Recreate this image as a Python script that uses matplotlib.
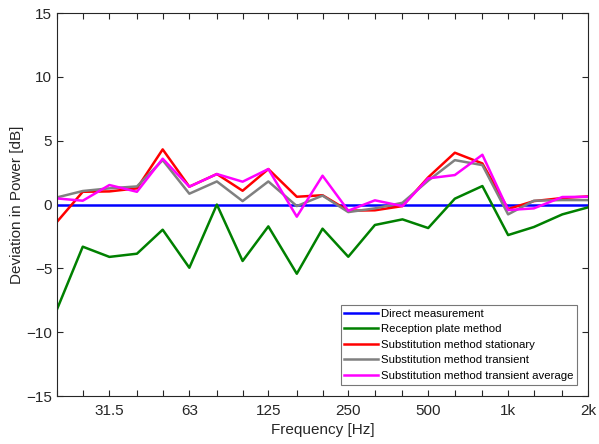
import matplotlib.pyplot as plt
import numpy as np

# third-octave band centres [Hz]
freqs = [20, 25, 31.5, 40, 50, 63, 80, 100, 125, 160, 200, 250, 315, 400,
         500, 630, 800, 1000, 1250, 1600, 2000]

direct = [0] * 21
reception = [-8.2, -3.3, -4.1, -3.85, -1.97, -4.95, 0.0, -4.42, -1.71, -5.42,
             -1.89, -4.09, -1.6, -1.16, -1.84, 0.46, 1.45, -2.39, -1.76, -0.77, -0.22]
subst_stat = [-1.35, 1.0, 1.03, 1.27, 4.32, 1.4, 2.39, 1.08, 2.78, 0.61,
              0.73, -0.48, -0.45, -0.12, 2.13, 4.06, 3.22, -0.35, 0.27, 0.51, 0.64]
subst_trans = [0.56, 1.06, 1.27, 1.42, 3.48, 0.85, 1.81, 0.27, 1.81, -0.12,
               0.7, -0.59, -0.3, 0.14, 1.87, 3.48, 3.09, -0.77, 0.3, 0.35, 0.35]
subst_avg = [0.48, 0.3, 1.53, 1.0, 3.59, 1.4, 2.39, 1.79, 2.78, -0.95,
             2.26, -0.48, 0.33, -0.12, 2.05, 2.31, 3.9, -0.43, -0.3, 0.59, 0.61]

tick_freqs = [31.5, 63, 125, 250, 500, 1000, 2000]
tick_labels = ["31.5", "63", "125", "250", "500", "1k", "2k"]

plt.rcParams['font.family'] = ['Liberation Sans', 'DejaVu Sans']

fig = plt.figure(figsize=(5.99, 4.44), dpi=100)
ax = fig.add_axes([0.0952, 0.108, 0.8865, 0.8626])

lw = 1.8
ax.plot(freqs, direct, color=(0, 0, 1), lw=lw, label="Direct measurement")
ax.plot(freqs, reception, color=(0, 0.5, 0), lw=lw, label="Reception plate method")
ax.plot(freqs, subst_stat, color=(1, 0, 0), lw=lw, label="Substitution method stationary")
ax.plot(freqs, subst_trans, color=(0.5, 0.5, 0.5), lw=lw, label="Substitution method transient")
ax.plot(freqs, subst_avg, color=(1, 0, 1), lw=lw, label="Substitution method transient average")

ax.set_xscale("log")
ax.set_xlim(20, 2000)
ax.set_ylim(-15, 15)
ax.set_xticks(freqs, minor=True)
ax.set_xticks(tick_freqs)
ax.set_xticklabels(tick_labels)
ax.xaxis.set_minor_formatter(plt.NullFormatter())
ax.set_yticks(np.arange(-15, 16, 5))

axis_col = "#262626"
ax.tick_params(which="both", direction="in", top=True, right=True,
               colors=axis_col, labelsize=11, length=4, width=0.8)
ax.tick_params(axis="x", which="minor", length=4)
ax.tick_params(axis="x", which="major", length=4, pad=6)
for s in ax.spines.values():
    s.set_color(axis_col)
    s.set_linewidth(0.8)

ax.set_xlabel("Frequency [Hz]", fontsize=11, color=axis_col, labelpad=3)
ax.set_ylabel("Deviation in Power [dB]", fontsize=11, color=axis_col, labelpad=2)

leg = ax.legend(loc="lower right", bbox_to_anchor=(0.98, 0.03), fontsize=8.2,
                fancybox=False, framealpha=1, edgecolor="#777777",
                handlelength=2.9, handletextpad=0.3, labelspacing=0.48,
                borderpad=0.35, borderaxespad=0)
leg.get_frame().set_linewidth(0.8)

fig.savefig("out.png", dpi=100)
